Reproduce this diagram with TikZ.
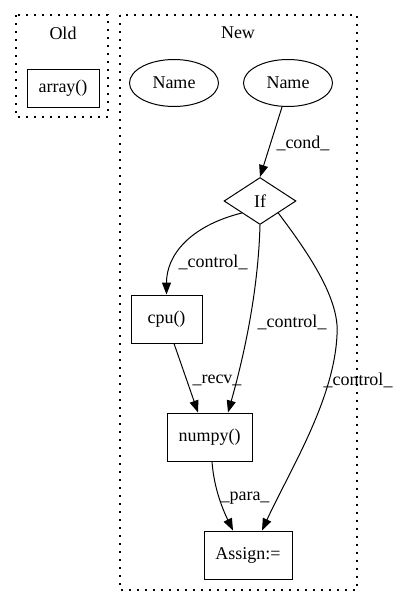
\documentclass[tikz,border=0pt]{standalone}
\usepackage{fontspec}
\setmainfont{Liberation Serif}
\usetikzlibrary{shapes.geometric,arrows.meta}
\begin{document}
\begin{tikzpicture}[x=1pt,y=-1pt,
  every node/.style={font=\fontsize{18}{20}\selectfont},
  cluster/.style={draw,line width=1.3pt,dash pattern=on 1.6pt off 6.4pt},
  box/.style={draw,line width=1pt,rectangle,inner sep=0pt},
  oval/.style={draw,line width=1pt,ellipse,inner sep=0pt,minimum width=89pt,minimum height=47pt},
  cond/.style={draw,line width=1pt,diamond,inner sep=0pt,minimum width=72pt,minimum height=47pt},
  edge/.style={line width=1pt,-{Triangle[length=12pt,width=9pt]}},
  lbl/.style={inner sep=1pt}]
\useasboundingbox (0,0) rectangle (400,606);

% clusters
\draw[cluster] (16,15) rectangle (108,117);
\node (oldtitle) at (63,33) {Old};
\draw[cluster] (120,15) rectangle (357,590);
\node (newtitle) at (238,33) {New};

% nodes
\node[box,minimum width=72pt,minimum height=38pt] (array) at (63,88) {array()};
\node[oval] (name1) at (174,83) {Name};
\node[oval] (name2) at (288,83) {Name};
\node[cond] (if) at (260,201) {If};
\node[box,minimum width=71pt,minimum height=48pt] (cpu) at (166.5,319) {cpu()};
\node[box,minimum width=85pt,minimum height=48pt] (numpy) at (209.5,437) {numpy()};
\node[box,minimum width=88pt,minimum height=48pt] (assign) at (248,555) {Assign:=};

% edges
\draw[edge] (name2.south) ++(-6,0) -- (if.north);
\node[lbl] (lcond) at (303,143) {\_cond\_};

\draw[edge] (if.south west) .. controls (190,226) and (166.5,255) .. (cpu.north);
\node[lbl] (lc1) at (213,262) {\_control\_};

\draw[edge] (if.south) .. controls (258,300) and (240,370) .. ([xshift=18.5pt]numpy.north);
\node[lbl] (lc2) at (292,322) {\_control\_};

\draw[edge] (if.south east) .. controls (310,255) and (340,300) .. (337,335)
  .. controls (334,400) and (290,470) .. ([xshift=14pt]assign.north);
\node[lbl] (lc3) at (358,380) {\_control\_};

\draw[edge] ([xshift=7.5pt]cpu.south) -- ([xshift=-11.5pt]numpy.north);
\node[lbl] (lrecv) at (217,380) {\_recv\_};

\draw[edge] ([xshift=2.5pt]numpy.south) .. controls (214,490) and (224,512) .. ([xshift=-15pt]assign.north);
\node[lbl] (lpara) at (245,498) {\_para\_};
\end{tikzpicture}
\end{document}
